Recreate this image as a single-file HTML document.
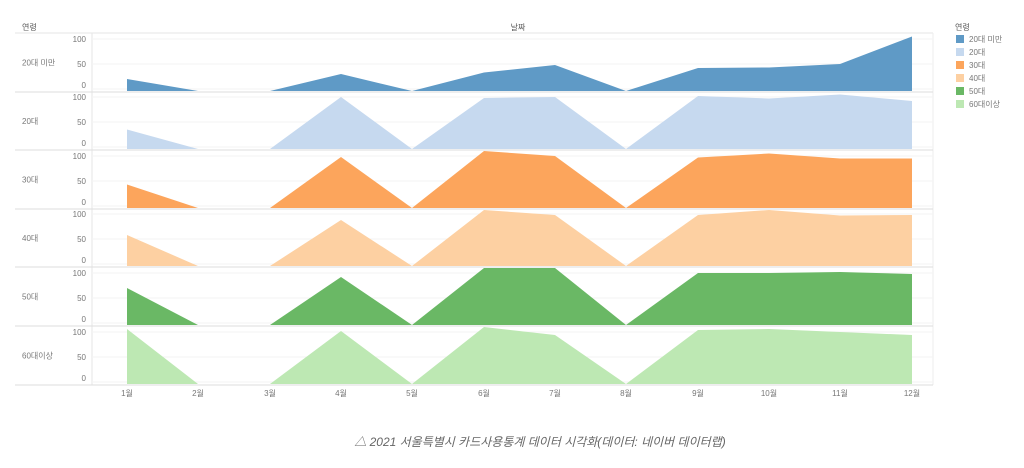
<!DOCTYPE html>
<html><head><meta charset="utf-8"><style>
body{margin:0;background:#fff;width:1024px;height:463px;overflow:hidden}
svg text{font-family:"Liberation Sans","Noto Sans CJK KR",sans-serif;fill:#777}
</style></head><body>
<svg width="1024" height="463" xmlns="http://www.w3.org/2000/svg">
<text x="22" y="30" font-size="8" fill="#555" style="fill:#555">연령</text>
<text x="518" y="30" font-size="8" text-anchor="middle" style="fill:#555">날짜</text>
<line x1="15" y1="33" x2="933" y2="33" stroke="#e6e6e6"/>
<line x1="92" y1="33" x2="92" y2="385" stroke="#e6e6e6"/>
<line x1="933" y1="33" x2="933" y2="385" stroke="#eee"/>
<g id="panels"></g>
<g font-size="8" text-anchor="middle">
<text x="127" y="396">1월</text><text x="198" y="396">2월</text><text x="270" y="396">3월</text><text x="341" y="396">4월</text><text x="412" y="396">5월</text><text x="484" y="396">6월</text><text x="555" y="396">7월</text><text x="626" y="396">8월</text><text x="698" y="396">9월</text><text x="769" y="396">10월</text><text x="840" y="396">11월</text><text x="912" y="396">12월</text>
</g>
<g font-size="8">
<text x="955" y="30" style="fill:#555">연령</text>
<rect x="956" y="35" width="8" height="8" fill="#5f9ac6"/><text x="969" y="42">20대 미만</text>
<rect x="956" y="48" width="8" height="8" fill="#c6d9ef"/><text x="969" y="55">20대</text>
<rect x="956" y="61" width="8" height="8" fill="#fca55c"/><text x="969" y="68">30대</text>
<rect x="956" y="74" width="8" height="8" fill="#fdd0a2"/><text x="969" y="81">40대</text>
<rect x="956" y="87" width="8" height="8" fill="#6ab865"/><text x="969" y="94">50대</text>
<rect x="956" y="100" width="8" height="8" fill="#bde8b3"/><text x="969" y="107">60대이상</text>
</g>
<text x="540" y="446" font-size="12" font-style="italic" text-anchor="middle" style="fill:#666">△ 2021 서울특별시 카드사용통계 데이터 시각화(데이터: 네이버 데이터랩)</text>
</svg>
<script>
var xs=[127,198,270,341,412,484,555,626,698,769,840,912];
var D=[
[20,0,0,30,0,33,48,0,42,43,50,105],
[35,0,0,100,0,98,100,0,102,97,105,92],
[43,0,0,98,0,110,100,0,97,105,95,95],
[58,0,0,88,0,108,98,0,98,108,97,98],
[70,0,0,92,0,110,110,0,100,100,102,98],
[106,0,0,102,0,110,94,0,104,106,100,94]];
var C=["#5f9ac6","#c6d9ef","#fca55c","#fdd0a2","#6ab865","#bde8b3"];
var L=["20대 미만","20대","30대","40대","50대","60대이상"];
var tops=[33,92,150,209,267,326],bots=[92,150,209,267,326,385];
var g=document.getElementById("panels"),h="";
for(var i=0;i<6;i++){var b=bots[i]-1;
 var y0=b-2;
 [0,50,100].forEach(function(v){var yy=y0-v*0.5;h+='<line x1="92" x2="933" y1="'+yy+'" y2="'+yy+'" stroke="#f3f3f3"/>';
 h+='<text x="86" y="'+(yy+3-(v==0?4:0))+'" font-size="8" text-anchor="end">'+v+'</text>';});
 var p="M"+xs[0]+","+b;D[i].forEach(function(v,k){var yy=v==0?b:y0-v*0.5;p+=" L"+xs[k]+","+yy;});
 p+=" L912,"+b+"Z";h+='<path d="'+p+'" fill="'+C[i]+'"/>';
 h+='<line x1="15" x2="933" y1="'+bots[i]+'" y2="'+bots[i]+'" stroke="#ddd"/>';
 h+='<text x="22" y="'+((tops[i]+bots[i])/2+3)+'" font-size="8">'+L[i]+'</text>';}
g.innerHTML=h;
</script>
</body></html>
